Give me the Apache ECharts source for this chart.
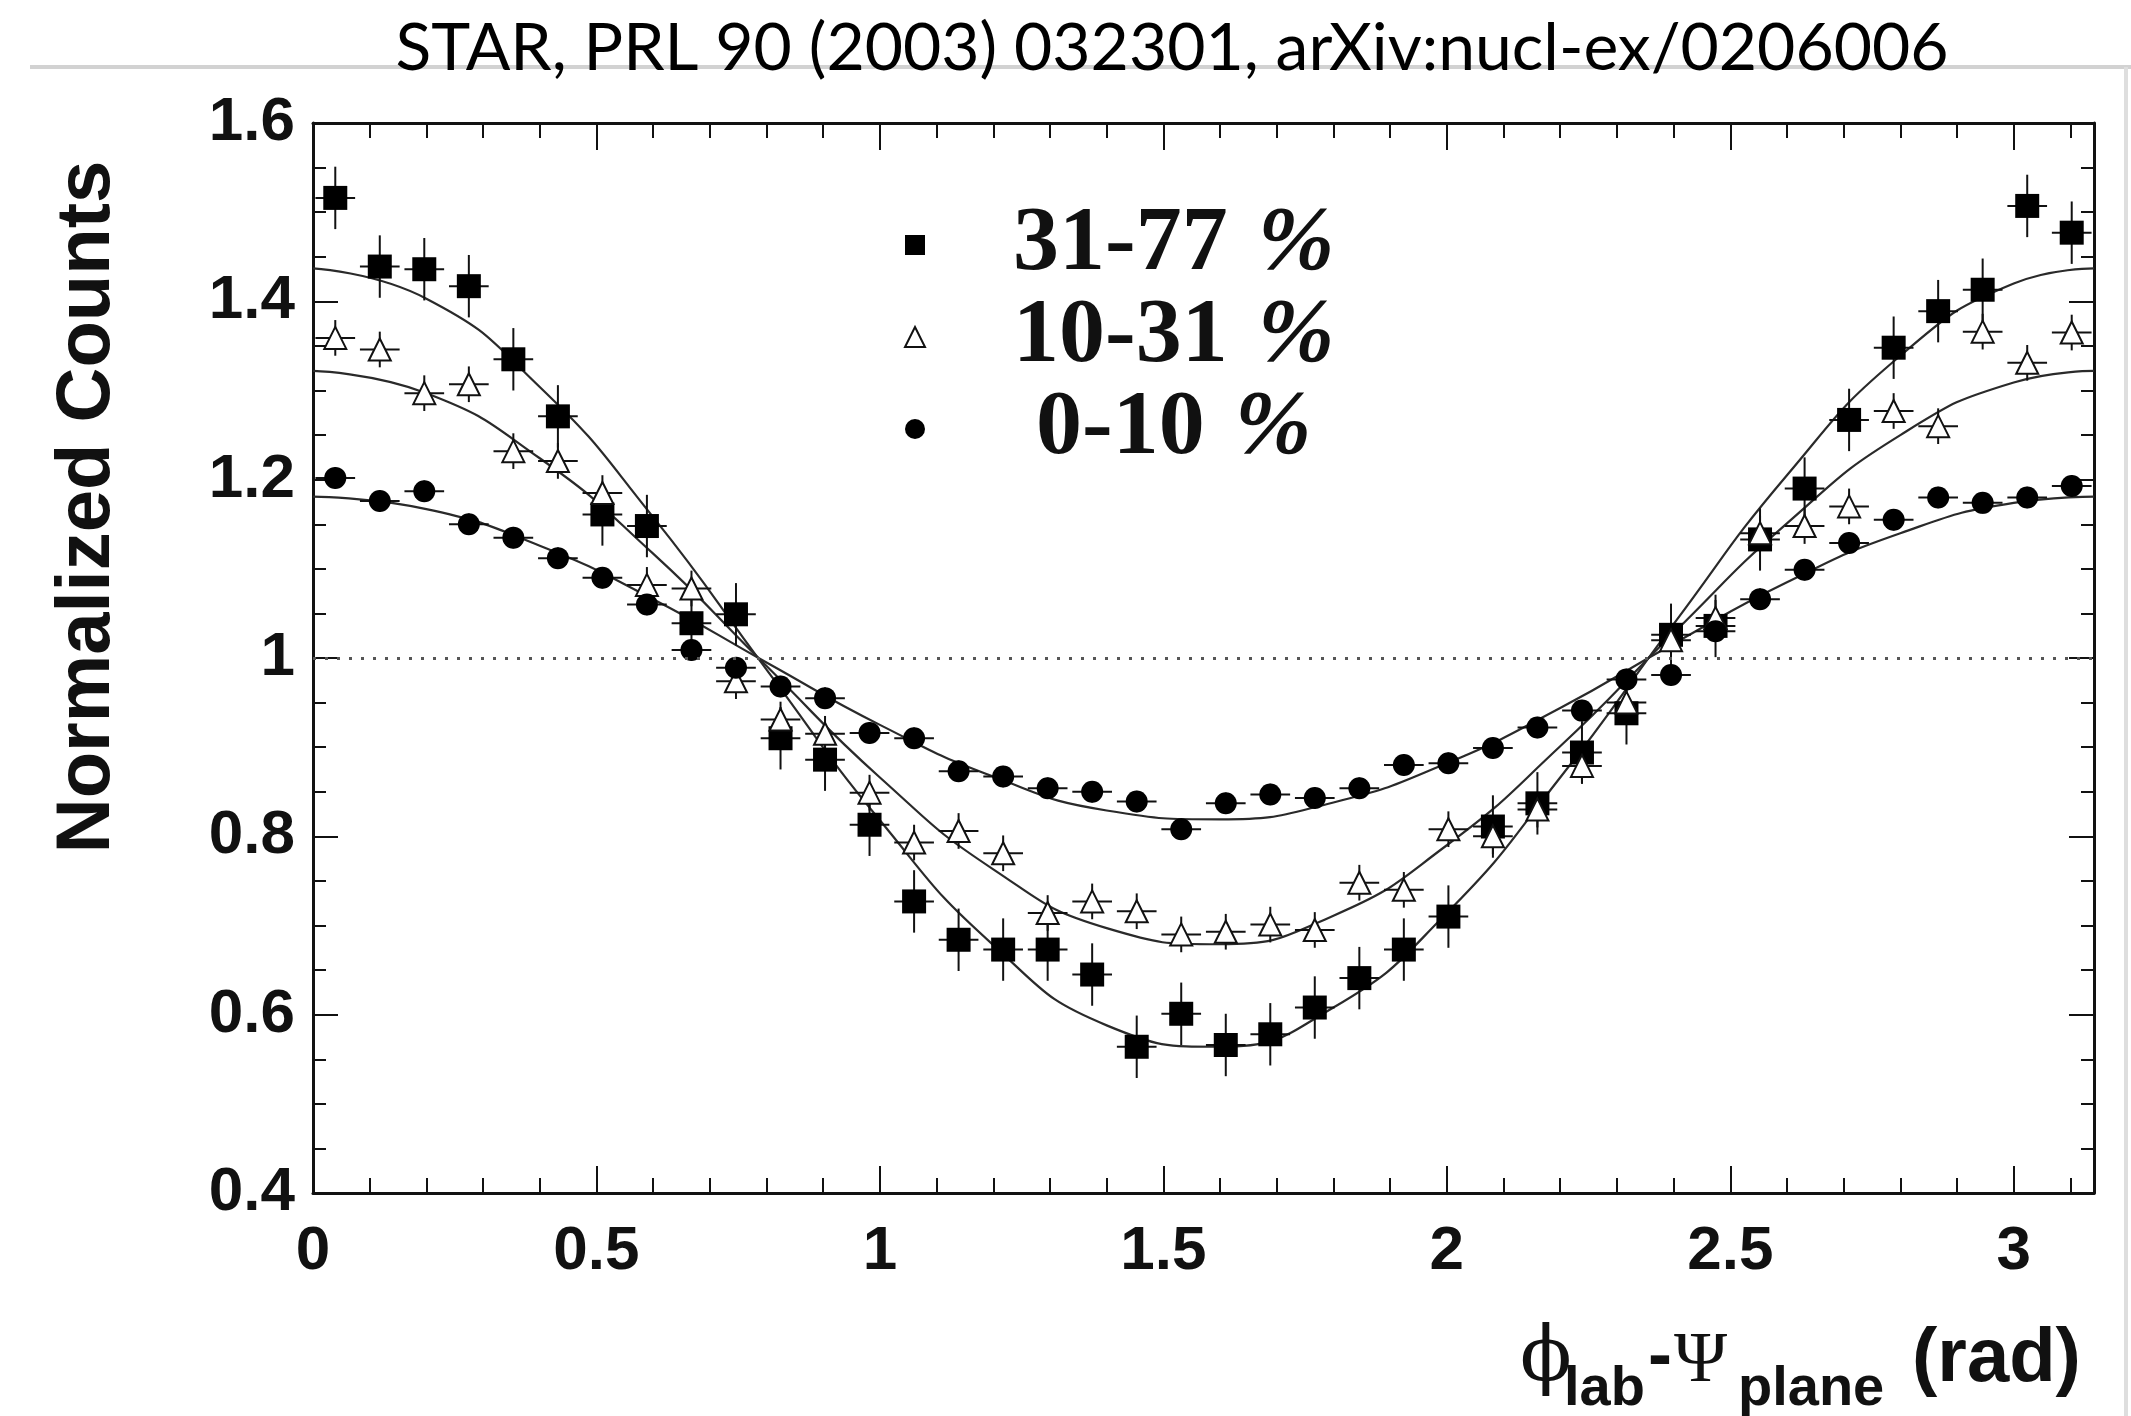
<!DOCTYPE html>
<html lang="en">

<head>
    <meta charset="UTF-8">
    <title>v2 normalized counts</title>
    <style>
        html, body {
            margin: 0;
            padding: 0;
            background: #fff;
        }

        #chart {
            width: 2131px;
            height: 1416px;
        }
    </style>
    <script src="https://cdn.jsdelivr.net/npm/echarts@6/dist/echarts.min.js"></script>
</head>

<body>
    <div id="chart"></div>
    <script>
        // bin centres, 40 bins over 0..pi
        var phi = [0.0393, 0.1178, 0.1963, 0.2749, 0.3534, 0.4320, 0.5105, 0.5890, 0.6676, 0.7461,
            0.8247, 0.9032, 0.9817, 1.0603, 1.1388, 1.2174, 1.2959, 1.3744, 1.4530, 1.5315,
            1.6101, 1.6886, 1.7671, 1.8457, 1.9242, 2.0028, 2.0813, 2.1598, 2.2384, 2.3169,
            2.3955, 2.4740, 2.5525, 2.6311, 2.7096, 2.7882, 2.8667, 2.9452, 3.0238, 3.1023];

        var counts3177 = [1.516, 1.439, 1.436, 1.417, 1.335, 1.271, 1.161, 1.148, 1.039, 1.049,
            0.910, 0.886, 0.813, 0.727, 0.684, 0.673, 0.673, 0.645, 0.564, 0.601,
            0.566, 0.578, 0.608, 0.641, 0.673, 0.710, 0.811, 0.837, 0.894, 0.938,
            1.026, 1.036, 1.133, 1.190, 1.267, 1.348, 1.389, 1.413, 1.507, 1.477];

        var counts1031 = [1.359, 1.346, 1.297, 1.307, 1.232, 1.221, 1.185, 1.082, 1.078, 0.974,
            0.931, 0.915, 0.849, 0.793, 0.806, 0.781, 0.714, 0.727, 0.716, 0.690,
            0.693, 0.701, 0.695, 0.748, 0.740, 0.808, 0.800, 0.830, 0.879, 0.950,
            1.020, 1.045, 1.140, 1.148, 1.170, 1.277, 1.260, 1.366, 1.331, 1.365];

        var counts010 = [1.202, 1.176, 1.187, 1.150, 1.135, 1.112, 1.090, 1.060, 1.009, 0.989,
            0.968, 0.955, 0.916, 0.910, 0.873, 0.867, 0.854, 0.850, 0.839, 0.808,
            0.837, 0.847, 0.843, 0.854, 0.880, 0.882, 0.899, 0.922, 0.941, 0.976,
            0.981, 1.030, 1.066, 1.099, 1.129, 1.155, 1.180, 1.174, 1.180, 1.193];

        // error bar sizes
        var err3177 = 0.035;
        var err1031 = 0.02;
        var err010 = 0.012;
        var binHalfWidth = 0.035;

        // fit curves, read at these phi values
        var fitPhi = [0, 0.2, 0.4, 0.6, 0.8, 1.0, 1.2, 1.4, 1.6, 1.8, 2.0, 2.2, 2.4, 2.6, 2.8, 3.0, 3.1416];
        var fit3177 = [1.437, 1.403, 1.304, 1.158, 0.987, 0.818, 0.678, 0.588, 0.564, 0.608, 0.714, 0.866, 1.038, 1.205, 1.339, 1.420, 1.437];
        var fit1031 = [1.322, 1.297, 1.224, 1.117, 0.991, 0.866, 0.763, 0.697, 0.679, 0.711, 0.790, 0.901, 1.028, 1.151, 1.250, 1.309, 1.322];
        var fit010 = [1.181, 1.167, 1.126, 1.066, 0.995, 0.925, 0.867, 0.829, 0.819, 0.838, 0.882, 0.944, 1.016, 1.085, 1.140, 1.174, 1.181];

        var xTicks = [0, 0.5, 1, 1.5, 2, 2.5, 3];
        var yTicks = [0.4, 0.6, 0.8, 1, 1.2, 1.4, 1.6];
        var xMax = 3.1416;

        var names = ['31-77 %', '10-31 %', '0-10 %'];

        function pairs(xs, ys) {
            return xs.map(function (x, i) { return [x, ys[i]]; });
        }

        function withErr(xs, ys, e) {
            return xs.map(function (x, i) { return [x, ys[i], e]; });
        }

        function errorBars(params, api) {
            var x = api.value(0), y = api.value(1), e = api.value(2);
            var t = api.coord([x, y + e]);
            var b = api.coord([x, y - e]);
            var l = api.coord([x - binHalfWidth, y]);
            var r = api.coord([x + binHalfWidth, y]);
            var st = { stroke: '#111', lineWidth: 2 };
            return {
                type: 'group',
                children: [
                    { type: 'line', shape: { x1: t[0], y1: t[1], x2: b[0], y2: b[1] }, style: st },
                    { type: 'line', shape: { x1: l[0], y1: l[1], x2: r[0], y2: r[1] }, style: st }
                ]
            };
        }

        function tickText(v) {
            return String(Math.round(v * 100) / 100);
        }

        var labelFont = { fontFamily: 'Liberation Sans', fontWeight: 'bold', fontSize: 62, color: '#111' };

        function xAxisCfg(pos) {
            return {
                type: 'value',
                position: pos,
                min: xTicks[0],
                max: xMax,
                interval: xTicks[1] - xTicks[0],
                axisLine: { onZero: false, lineStyle: { color: '#111', width: 3 } },
                axisTick: { inside: true, length: 27, lineStyle: { color: '#111', width: 2 } },
                minorTick: { show: true, splitNumber: 5, length: 15, lineStyle: { color: '#111', width: 2 } },
                splitLine: { show: false },
                axisLabel: Object.assign({ show: pos === 'bottom', margin: 28, showMaxLabel: false, formatter: tickText }, labelFont)
            };
        }

        function yAxisCfg(pos) {
            return {
                type: 'value',
                position: pos,
                min: yTicks[0],
                max: yTicks[yTicks.length - 1],
                interval: 0.2,
                axisLine: { onZero: false, lineStyle: { color: '#111', width: 3 } },
                axisTick: { inside: true, length: 25, lineStyle: { color: '#111', width: 2 } },
                minorTick: { show: true, splitNumber: 4, length: 13, lineStyle: { color: '#111', width: 2 } },
                splitLine: { show: false },
                axisLabel: Object.assign({ show: pos === 'left', margin: 18, formatter: tickText }, labelFont)
            };
        }

        var fitLine = { color: '#2a2a2a', width: 2.2 };
        var nameFill = '#111';

        var chart = echarts.init(document.getElementById('chart'), null, { renderer: 'canvas' });

        var option = {
            animation: false,
            backgroundColor: '#fff',
            grid: { left: 313, right: 37, top: 123, bottom: 223, outerBoundsMode: 'none', containLabel: false },
            xAxis: [xAxisCfg('bottom'), xAxisCfg('top')],
            yAxis: [yAxisCfg('left'), yAxisCfg('right')],
            legend: {
                data: names,
                orient: 'vertical',
                left: 899,
                top: 194,
                itemWidth: 20,
                itemHeight: 20,
                itemGap: 0,
                formatter: function (name) {
                    var p = name.split(' ');
                    var num = p[0].length < 5 ? ' ' + p[0] : p[0];
                    return '{n|' + num + '}{p|%}';
                },
                textStyle: {
                    rich: {
                        n: {
                            fontFamily: 'Liberation Serif', fontWeight: 'bold', fontSize: 92,
                            color: '#111', lineHeight: 97, padding: [0, 0, 0, 83]
                        },
                        p: {
                            fontFamily: 'Liberation Serif', fontWeight: 'bold', fontStyle: 'italic',
                            fontSize: 92, color: '#111', lineHeight: 97, padding: [0, 0, 0, 30]
                        }
                    }
                }
            },
            graphic: [
                { type: 'line', shape: { x1: 30, y1: 67, x2: 2131, y2: 67 }, style: { stroke: '#d2d2d2', lineWidth: 4 }, z: 0 },
                { type: 'line', shape: { x1: 2126, y1: 67, x2: 2126, y2: 1416 }, style: { stroke: '#dedede', lineWidth: 4 }, z: 0 },
                {
                    type: 'text', x: 1172, y: 49, z: 10,
                    style: {
                        text: 'STAR, PRL 90 (2003) 032301, arXiv:nucl-ex/0206006',
                        font: '66px Lato', fill: '#000', textAlign: 'center', textVerticalAlign: 'middle'
                    }
                },
                {
                    type: 'text', x: 88, y: 507, rotation: Math.PI / 2,
                    style: {
                        text: 'Normalized Counts', font: 'bold 76px "Liberation Sans"', fill: nameFill,
                        textAlign: 'center', textVerticalAlign: 'middle'
                    }
                },
                { type: 'text', x: 1520, y: 1398, style: { text: '\u03D5', font: '76px "DejaVu Serif"', fill: nameFill, textVerticalAlign: 'bottom' } },
                { type: 'text', x: 1564, y: 1418, style: { text: 'lab', font: 'bold 56px "Liberation Sans"', fill: nameFill, textVerticalAlign: 'bottom' } },
                { type: 'text', x: 1648, y: 1394, style: { text: '-', font: 'bold 72px "Liberation Sans"', fill: nameFill, textVerticalAlign: 'bottom' } },
                { type: 'text', x: 1674, y: 1398, style: { text: '\u03A8', font: '72px "Liberation Serif"', fill: nameFill, textVerticalAlign: 'bottom' } },
                { type: 'text', x: 1738, y: 1418, style: { text: 'plane', font: 'bold 56px "Liberation Sans"', fill: nameFill, textVerticalAlign: 'bottom' } },
                { type: 'text', x: 1912, y: 1398, style: { text: '(rad)', font: 'bold 76px "Liberation Sans"', fill: nameFill, textVerticalAlign: 'bottom' } }
            ],
            series: [
                {
                    name: 'fit 31-77', type: 'line', data: pairs(fitPhi, fit3177), smooth: true,
                    showSymbol: false, silent: true, lineStyle: fitLine, z: 2,
                    markLine: {
                        silent: true, symbol: 'none', label: { show: false },
                        lineStyle: { type: [3, 9], color: '#555', width: 3 },
                        data: [{ yAxis: 1 }]
                    }
                },
                { name: 'fit 10-31', type: 'line', data: pairs(fitPhi, fit1031), smooth: true, showSymbol: false, silent: true, lineStyle: fitLine, z: 2 },
                { name: 'fit 0-10', type: 'line', data: pairs(fitPhi, fit010), smooth: true, showSymbol: false, silent: true, lineStyle: fitLine, z: 2 },
                { type: 'custom', renderItem: errorBars, data: withErr(phi, counts3177, err3177), z: 3, silent: true },
                { type: 'custom', renderItem: errorBars, data: withErr(phi, counts1031, err1031), z: 3, silent: true },
                { type: 'custom', renderItem: errorBars, data: withErr(phi, counts010, err010), z: 3, silent: true },
                {
                    name: names[0], type: 'scatter', data: pairs(phi, counts3177), symbol: 'rect', symbolSize: 24,
                    itemStyle: { color: '#000', opacity: 1 }, z: 4
                },
                {
                    name: names[1], type: 'scatter', data: pairs(phi, counts1031), symbol: 'triangle', symbolSize: 22,
                    itemStyle: { color: '#fff', borderColor: '#111', borderWidth: 2, opacity: 1 }, z: 4
                },
                {
                    name: names[2], type: 'scatter', data: pairs(phi, counts010), symbol: 'circle', symbolSize: 22,
                    itemStyle: { color: '#000', opacity: 1 }, z: 4
                }
            ]
        };
        chart.setOption(option);
    </script>
</body>

</html>
